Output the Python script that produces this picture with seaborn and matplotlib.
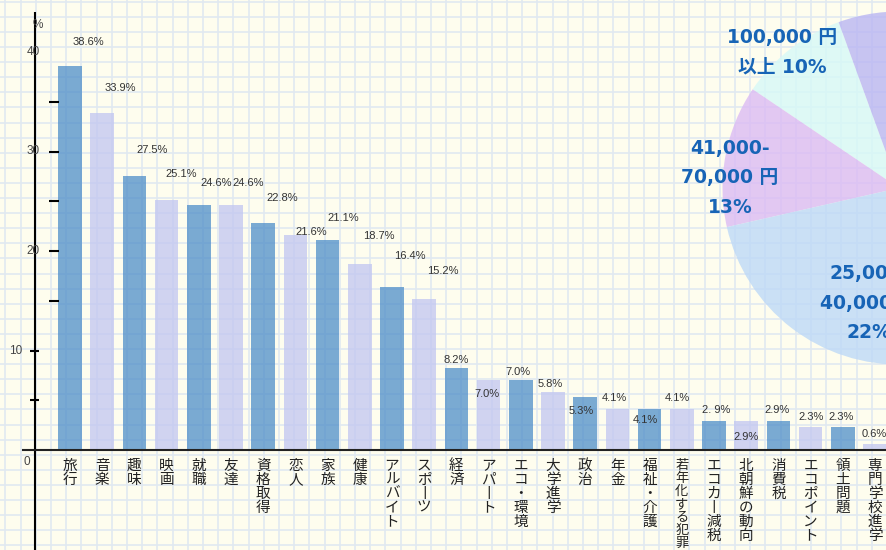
import numpy as np
import pandas as pd
import matplotlib
matplotlib.use("Agg")
import matplotlib.pyplot as plt
import seaborn as sns

# Bar data: topics of interest (%)
TOPICS = ["旅行", "音楽", "趣味", "映画", "就職", "友達", "資格取得", "恋人", "家族", "健康",
          "アルバイト", "スポーツ", "経済", "アパート", "エコ・環境", "大学進学", "政治", "年金",
          "福祉・介護", "若年化する犯罪", "エコカー減税", "北朝鮮の動向", "消費税", "エコポイント",
          "領土問題", "専門学校進学"]
SHARES = [38.6, 33.9, 27.5, 25.1, 24.6, 24.6, 22.8, 21.6, 21.1, 18.7, 16.4, 15.2, 8.2, 7.0,
          7.0, 5.8, 5.3, 4.1, 4.1, 4.1, 2.9, 2.9, 2.9, 2.3, 2.3, 0.6]
Y_TICKS = [0, 10, 20, 30, 40]

# Pie in the corner (only partly on the canvas)
PIE_LABELS = ["100,000 円\n以上 10%", "41,000-\n70,000 円\n13%", "25,000-\n40,000 円\n22%", "その他"]
PIE_SHARES = [10, 13, 22, 55]

# Layout (pixels on the 886x550 canvas)
W, H = 886, 550
X0, XSTEP = 70, 32.2      # centre of first bar, bar pitch
Y0, YSTEP = 450, 9.95     # baseline, pixels per percent
LABEL_OFFSETS = [(18, 24), (18, 25), (18, 26), (15, 26), (17, 22), (17, 22), (19, 25), (16, 3),
                 (16, 22), (19, 28), (18, 31), (19, 28), (0, 8), (-2, -14), (-3, 8), (-3, 8),
                 (-4, -14), (-3, 11), (-4, -11), (-4, 11), (2, 11), (0, -16), (-1, 11), (1, 10),
                 (-2, 10), (-1, 10)]
PIE_TEXT_POS = [(782, 52), (730, 178), (869, 303)]

BG = "#fefdee"
GRID = "#e1e9f1"
DARK, LIGHT = "#4e8ec9", "#c1c6f1"
PIE_COLORS = ["#d7f9f7", "#dbbbf4", "#bdd9f7", "#bab6f3"]
PIE_TEXT = "#1764b6"


def px_x(px):
    return (px - X0) / XSTEP


def px_y(py):
    return (Y0 - py) / YSTEP


fig = plt.figure(figsize=(W / 100, H / 100), dpi=100, facecolor=BG)

# graph paper
bg = fig.add_axes([0, 0, 1, 1], zorder=0)
bg.set_xlim(0, W)
bg.set_ylim(H, 0)
bg.set_facecolor(BG)
bg.vlines(np.arange(5.5, W, 15.2), 0, H, color=GRID, lw=1.2)
bg.hlines(np.arange(1.7, H, 15.1), 0, W, color=GRID, lw=1.2)
bg.set_axis_off()

# pie chart
pax = fig.add_axes([0, 0, 1, 1], zorder=1)
pax.pie(PIE_SHARES, colors=PIE_COLORS, startangle=110, counterclock=True,
        center=(899, H - 188), radius=176.5, wedgeprops=dict(alpha=0.8, linewidth=0))
pax.set_aspect("auto")
pax.set_xlim(0, W)
pax.set_ylim(0, H)
pax.set_axis_off()
for (tx, ty), lab in zip(PIE_TEXT_POS, PIE_LABELS):
    pax.text(tx, H - ty, lab, ha="center", va="center", multialignment="center",
             fontsize=13.5, fontweight="bold", color=PIE_TEXT, linespacing=1.7,
             family=["DejaVu Sans", "Noto Sans CJK JP"])

# bar chart
ax = fig.add_axes([0, 0, 1, 1], zorder=2)
ax.patch.set_alpha(0)
df = pd.DataFrame({"topic": TOPICS, "share": SHARES})
palette = [DARK if i % 2 == 0 else LIGHT for i in range(len(TOPICS))]
sns.barplot(data=df, x="topic", y="share", hue="topic", palette=palette, legend=False,
            width=0.73, alpha=0.75, saturation=1, ax=ax)
ax.set_xlim(px_x(0), px_x(W))
ax.set_ylim(px_y(H), px_y(0))
ax.set_axis_off()

# axes lines
ax.plot([px_x(35)] * 2, [px_y(12), px_y(H)], color="black", lw=1.5, solid_capstyle="butt")
ax.plot([px_x(23), px_x(W)], [0, 0], color="#222222", lw=1.5)
for t in range(5, 40, 5):
    x_a, x_b = (30, 39) if t <= 10 else (49, 59)
    ax.plot([px_x(x_a), px_x(x_b)], [t, t], color="black", lw=1.5, solid_capstyle="butt")
for t in Y_TICKS[1:]:
    ax.text(px_x(33 if t > 10 else 16), t, str(t), ha="center", va="center",
            fontsize=8.5, color="#444444", family="Liberation Sans")
ax.text(px_x(27), px_y(462), "0", ha="center", va="center", fontsize=8.5, color="#444444",
        family="Liberation Sans")
ax.text(px_x(38), px_y(25), "%", ha="center", va="center", fontsize=8.5, color="#444444",
        family="Liberation Sans")

# value labels
for i, v in enumerate(SHARES):
    txt = f"{v:.1f}%"
    if i == 20:
        txt = "2. 9%"
    ax.annotate(txt, (i, v), xytext=LABEL_OFFSETS[i], textcoords="offset pixels",
                ha="center", va="center", fontsize=8, color="#333333", family="Liberation Sans")

# vertical category labels
for i, name in enumerate(TOPICS):
    fs = 10.5 if len(name) <= 6 else 9.5
    ax.text(i, px_y(459), "\n".join(name.replace("ー", "丨")), ha="center", va="top",
            fontsize=fs, linespacing=1.0, color="#222222", family="Noto Sans CJK JP")

fig.savefig("out.png", dpi=100, facecolor=BG)
